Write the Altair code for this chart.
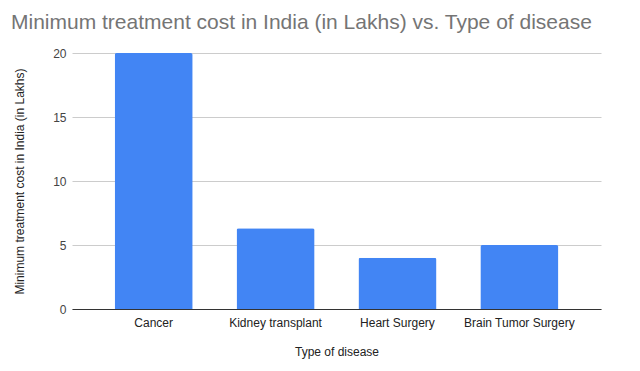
import altair as alt
import pandas as pd

diseases = ["Cancer", "Kidney transplant", "Heart Surgery", "Brain Tumor Surgery"]
costs = [20, 6.3, 4, 5]

df = pd.DataFrame({"disease": diseases, "cost": costs})

chart = alt.Chart(df).mark_bar(color="#4285F4", cornerRadiusTopLeft=2, cornerRadiusTopRight=2).encode(
    x=alt.X("disease:N", sort=diseases, title="Type of disease",
            scale=alt.Scale(paddingInner=0.36, paddingOuter=0.35),
            axis=alt.Axis(labelAngle=0, ticks=False, domainColor="#333333", domainWidth=1,
                          labelFont="Arial", labelFontSize=12, labelColor="#222222",
                          labelPadding=8, titleFont="Arial", titleFontSize=12,
                          titleFontWeight="normal", titleColor="#222222", titlePadding=18)),
    y=alt.Y("cost:Q", title="Minimum treatment cost in India (in Lakhs)",
            scale=alt.Scale(domain=[0, 20], nice=False),
            axis=alt.Axis(values=[0, 5, 10, 15, 20], ticks=False, domain=False,
                          gridColor="#cccccc", labelFont="Arial", labelFontSize=12,
                          labelColor="#444444", labelPadding=6, titleFont="Arial",
                          titleFontSize=12, titleFontWeight="normal", titleColor="#222222",
                          titlePadding=26)),
).properties(
    width=529,
    height=256,
    title=alt.TitleParams("Minimum treatment cost in India (in Lakhs) vs. Type of disease",
                          anchor="start", frame="group", dx=-61, font="Arial", fontSize=21,
                          fontWeight="normal", color="#757575", offset=14),
    autosize=alt.AutoSizeParams(type="none"),
    padding={"left": 64, "top": 45, "right": 31, "bottom": 54},
).configure_view(stroke=None)

chart.save("out.html", embed_options={"renderer": "svg", "actions": False})
